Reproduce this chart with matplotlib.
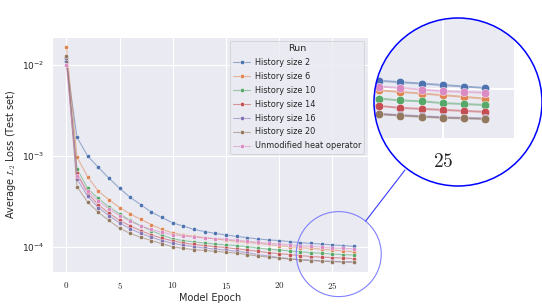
import numpy as np
import matplotlib
matplotlib.use("Agg")
import matplotlib.pyplot as plt
import seaborn as sns
from matplotlib.patches import Circle
from matplotlib.lines import Line2D
from matplotlib.transforms import IdentityTransform
from matplotlib.ticker import FuncFormatter, FixedLocator

sns.set_style("darkgrid")
plt.rcParams['font.family'] = ['DejaVu Sans']
plt.rcParams['mathtext.fontset'] = 'cm'

epochs = list(range(28))
labels = ["History size 2", "History size 6", "History size 10", "History size 14",
          "History size 16", "History size 20", "Unmodified heat operator"]
colors = ["#4C72B0", "#DD8452", "#55A868", "#C44E52", "#8172B3", "#937860", "#DA8BC3"]

hist2 = [1.1e-2, 1.6e-3, 1.0e-3, 7.5e-4, 5.7e-4, 4.4e-4, 3.5e-4, 2.9e-4, 2.4e-4, 2.1e-4,
         1.83e-4, 1.69e-4, 1.55e-4, 1.47e-4, 1.4e-4, 1.35e-4, 1.3e-4, 1.26e-4, 1.22e-4, 1.19e-4,
         1.17e-4, 1.14e-4, 1.11e-4, 1.09e-4, 1.07e-4, 1.05e-4, 1.03e-4, 1.01e-4]
hist6 = [1.6e-2, 9.7e-4, 5.9e-4, 4.1e-4, 3.3e-4, 2.7e-4, 2.3e-4, 2.0e-4, 1.75e-4, 1.55e-4,
         1.42e-4, 1.35e-4, 1.3e-4, 1.26e-4, 1.22e-4, 1.18e-4, 1.15e-4, 1.12e-4, 1.09e-4, 1.06e-4,
         1.03e-4, 1.0e-4, 9.8e-5, 9.6e-5, 9.4e-5, 9.2e-5, 9.0e-5, 8.8e-5]
hist10 = [1.2e-2, 7.2e-4, 4.4e-4, 3.4e-4, 2.75e-4, 2.3e-4, 1.95e-4, 1.7e-4, 1.5e-4, 1.35e-4,
          1.22e-4, 1.17e-4, 1.13e-4, 1.1e-4, 1.07e-4, 1.05e-4, 1.03e-4, 1.0e-4, 9.7e-5, 9.4e-5,
          9.2e-5, 9.0e-5, 8.8e-5, 8.6e-5, 8.5e-5, 8.3e-5, 8.2e-5, 8.1e-5]
hist14 = [1.2e-2, 6.5e-4, 3.9e-4, 2.9e-4, 2.35e-4, 1.95e-4, 1.7e-4, 1.5e-4, 1.35e-4, 1.24e-4,
          1.16e-4, 1.1e-4, 1.06e-4, 1.03e-4, 1.0e-4, 9.8e-5, 9.5e-5, 9.2e-5, 8.9e-5, 8.6e-5,
          8.4e-5, 8.2e-5, 8.0e-5, 7.8e-5, 7.7e-5, 7.6e-5, 7.5e-5, 7.4e-5]
hist16 = [1.2e-2, 5.6e-4, 3.6e-4, 2.7e-4, 2.2e-4, 1.83e-4, 1.58e-4, 1.4e-4, 1.27e-4, 1.17e-4,
          1.09e-4, 1.04e-4, 1.0e-4, 9.7e-5, 9.4e-5, 9.2e-5, 8.9e-5, 8.6e-5, 8.2e-5, 7.9e-5,
          7.6e-5, 7.4e-5, 7.2e-5, 7.1e-5, 7.0e-5, 6.9e-5, 6.85e-5, 6.8e-5]
hist20 = [1.25e-2, 4.6e-4, 3.1e-4, 2.4e-4, 1.95e-4, 1.6e-4, 1.4e-4, 1.27e-4, 1.17e-4, 1.08e-4,
          1.0e-4, 9.6e-5, 9.3e-5, 9.1e-5, 8.9e-5, 8.7e-5, 8.5e-5, 8.2e-5, 7.9e-5, 7.7e-5,
          7.5e-5, 7.3e-5, 7.2e-5, 7.05e-5, 6.95e-5, 6.85e-5, 6.8e-5, 6.75e-5]
unmod = [1.0e-2, 6.0e-4, 4.1e-4, 3.2e-4, 2.6e-4, 2.2e-4, 1.9e-4, 1.7e-4, 1.55e-4, 1.44e-4,
         1.36e-4, 1.31e-4, 1.28e-4, 1.25e-4, 1.23e-4, 1.21e-4, 1.18e-4, 1.15e-4, 1.12e-4, 1.09e-4,
         1.07e-4, 1.05e-4, 1.03e-4, 1.01e-4, 9.9e-5, 9.7e-5, 9.6e-5, 9.5e-5]
series = [hist2, hist6, hist10, hist14, hist16, hist20, unmod]

W, H = 542, 307
fig = plt.figure(figsize=(W / 100, H / 100), dpi=100)
ax = fig.add_axes([52 / W, (H - 272) / H, (368 - 52) / W, (272 - 37) / H])

def draw(a, ms, lw):
    for lab, col, vals in zip(labels, colors, series):
        rgba = matplotlib.colors.to_rgba(col, 0.55)
        a.plot(epochs, vals, color=rgba, lw=lw, marker='o', ms=ms,
               markerfacecolor=col, markeredgecolor='white', markeredgewidth=0.3, label=lab)

draw(ax, 3.0, 0.8)
ax.set_yscale('log')
xlim = (-1.35, 28.35)
ylim = (10 ** -4.278, 10 ** -1.69)
ax.set_xlim(*xlim)
ax.set_ylim(*ylim)
ax.xaxis.set_major_locator(FixedLocator([0, 5, 10, 15, 20, 25]))
ax.xaxis.set_major_formatter(FuncFormatter(lambda v, p: f"${v:g}$"))
ax.tick_params(axis='both', labelsize=6.5, pad=2)
ax.yaxis.set_minor_formatter(FuncFormatter(lambda v, p: ""))
ax.set_xlabel("Model Epoch", fontsize=7, labelpad=1.5)
ax.set_ylabel("Average $L_2$ Loss (Test set)", fontsize=7, labelpad=3)
ax.grid(True, which='major', color='white', lw=0.8)

leg = ax.legend(title="Run", fontsize=5.9, title_fontsize=6.8, loc='upper right',
                frameon=True, borderaxespad=0.45, labelspacing=0.6, handlelength=2.0,
                handletextpad=0.6)
leg.get_frame().set_edgecolor('#cccccc')
leg.get_frame().set_linewidth(0.6)

# Magnified inset
ix0, ix1, iy0, iy1 = 375, 514, 18, 138
ax_in = fig.add_axes([ix0 / W, (H - iy1) / H, (ix1 - ix0) / W, (iy1 - iy0) / H])
draw(ax_in, 6.0, 1.4)
ax_in.set_yscale('log')
ax_in.set_xlim(21.8, xlim[1])
ax_in.set_ylim(ylim[0], 10 ** -3.60)
ax_in.grid(False)
ax_in.set_yticks([])
ax_in.yaxis.set_minor_locator(FixedLocator([]))
ax_in.set_xticks([25])
ax_in.xaxis.set_major_formatter(FuncFormatter(lambda v, p: f"${v:g}$"))
ax_in.tick_params(axis='x', labelsize=14, pad=10, length=0)
for s in ax_in.spines.values():
    s.set_visible(False)
vl = ax_in.axvline(25, color='white', lw=1.5, zorder=0.5)
hl = ax_in.axhline(1e-4, color='white', lw=1.5, zorder=0.5)

cx, cy, r = 458, H - 102, 84
circ = Circle((cx, cy), r, transform=IdentityTransform(), facecolor='none',
              edgecolor='#0000ff', lw=1.1)
fig.add_artist(circ)
ax_in.patch.set_clip_path(circ)
for ln in ax_in.lines:
    ln.set_clip_path(circ)

# Small circle in main axes marking the zoomed region
center_disp = ax.transData.transform((25.6, 8.3e-5))
small = Circle(tuple(center_disp), 42.5, transform=IdentityTransform(), facecolor='none',
               edgecolor='#8080ff', lw=0.8)
fig.add_artist(small)
conn = Line2D([365.7, 405], [H - 221, H - 170], transform=IdentityTransform(),
              color='#3b3bff', lw=0.8)
fig.add_artist(conn)

fig.savefig("out.png", dpi=100)
